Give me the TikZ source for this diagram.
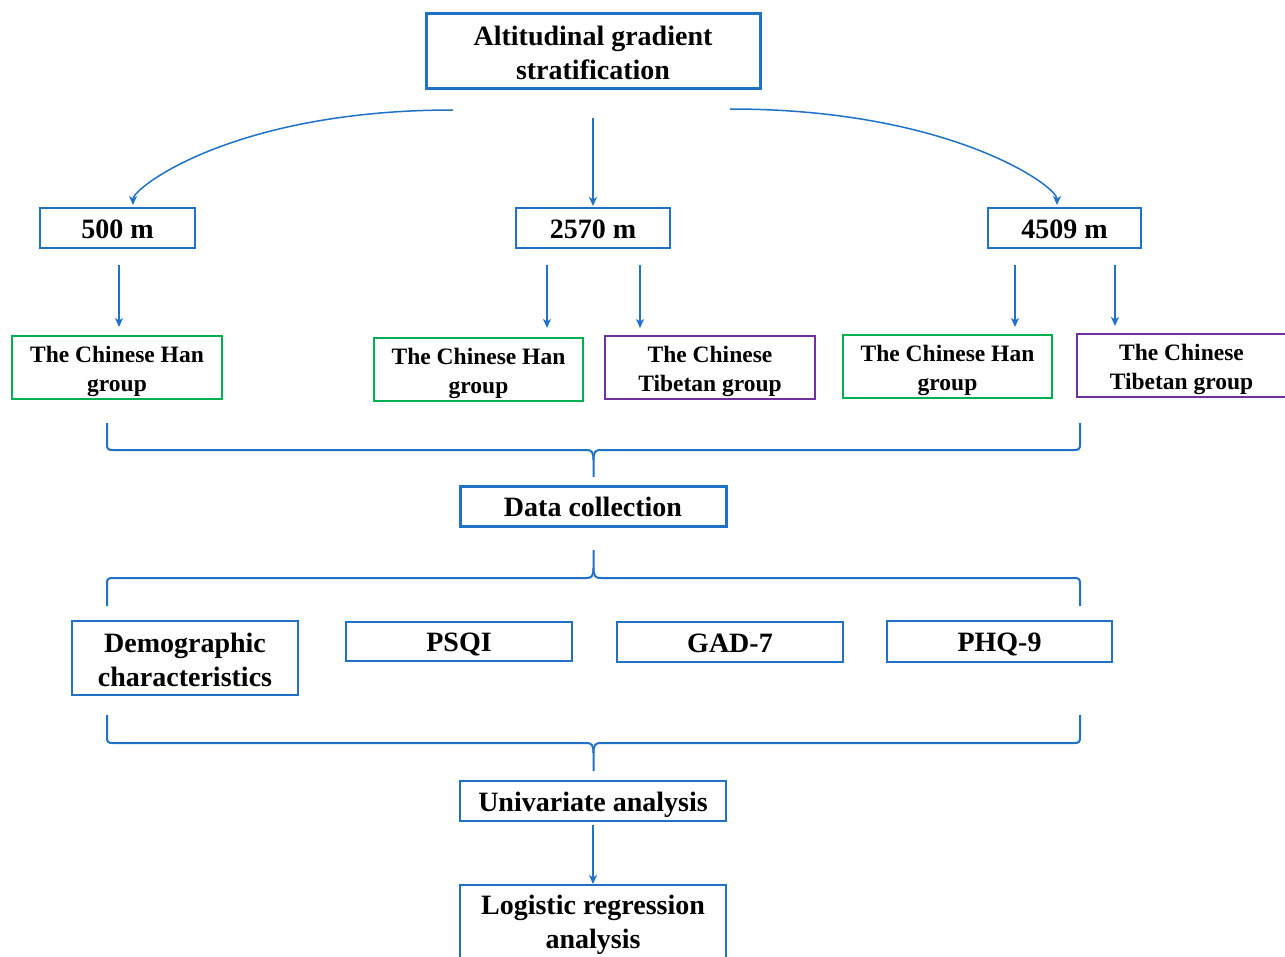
\documentclass[tikz,border=0pt]{standalone}
\usepackage{fontspec}
\setmainfont{Liberation Serif}
\usetikzlibrary{arrows.meta}
\definecolor{cblue}{HTML}{1F72C6}
\definecolor{cgreen}{HTML}{00B050}
\definecolor{cpurple}{HTML}{7030A0}
\newcommand\fbig{\fontsize{28}{34}\selectfont\bfseries}
\newcommand\fsmall{\fontsize{23.5}{28.5}\selectfont\bfseries}
\newcommand\lift[1]{\rule{0pt}{#1}}
\begin{document}
\begin{tikzpicture}[x=1pt,y=-1pt,
  box/.style={draw=cblue, line width=2pt, rectangle, inner sep=0pt, align=center, font=\fbig},
  oneline/.style={text height=20pt, text depth=0pt},
  thickbox/.style={box, line width=3pt},
  hanbox/.style={box, draw=cgreen, font=\fsmall},
  tibbox/.style={box, draw=cpurple, font=\fsmall},
  arr/.style={draw=cblue, line width=1.5pt, -{Stealth[length=9pt,width=8pt,inset=2.5pt]}},
  brace/.style={draw=cblue, line width=2pt}]
\useasboundingbox (0,0) rectangle (1285,956);
\fill[white] (0,0) rectangle (1285,956);

% boxes
\node[thickbox, minimum width=334pt, minimum height=75pt] (top) at (593,50.5) {\lift{24pt}Altitudinal gradient\\stratification};
\node[box, oneline, minimum width=155pt, minimum height=40pt] (b500) at (117.5,228) {500 m};
\node[box, oneline, minimum width=154pt, minimum height=40pt] (b2570) at (593,228) {2570 m};
\node[box, oneline, minimum width=153pt, minimum height=40pt] (b4509) at (1064.5,228) {4509 m};
\node[hanbox, minimum width=210pt, minimum height=63pt] (han1) at (117,367.5) {\lift{24pt}The Chinese Han\\group};
\node[hanbox, minimum width=209pt, minimum height=63pt] (han2) at (478.5,369.5) {\lift{24pt}The Chinese Han\\group};
\node[tibbox, minimum width=210pt, minimum height=63pt] (tib2) at (710,367.5) {\lift{24pt}The Chinese\\Tibetan group};
\node[hanbox, minimum width=209pt, minimum height=63pt] (han3) at (947.5,366.5) {\lift{24pt}The Chinese Han\\group};
\node[tibbox, minimum width=210pt, minimum height=63pt] (tib3) at (1181.5,365.5) {\lift{24pt}The Chinese\\Tibetan group};
\node[thickbox, oneline, minimum width=266pt, minimum height=40pt] (data) at (593,506) {Data collection};
\node[box, minimum width=226pt, minimum height=74pt] (demo) at (185,658) {\lift{23pt}Demographic\\characteristics};
\node[box, oneline, minimum width=226pt, minimum height=39pt] (psqi) at (459,641.5) {PSQI};
\node[box, oneline, minimum width=226pt, minimum height=40pt] (gad) at (730,642) {GAD-7};
\node[box, oneline, minimum width=225pt, minimum height=41pt] (phq) at (999.5,641.5) {PHQ-9};
\node[box, oneline, minimum width=266pt, minimum height=40pt] (uni) at (593,801) {Univariate analysis};
\node[box, minimum width=266pt, minimum height=75pt] (logi) at (593,922) {\lift{26pt}Logistic regression\\analysis};

% connector end points
\coordinate (tL) at (453,110);
\coordinate (tM) at (593,118);
\coordinate (tR) at (730,109);
\coordinate (e500) at (133,205);
\coordinate (e2570) at (593,206);
\coordinate (e4509) at (1057,205);
\coordinate (s1) at (119,265);  \coordinate (d1) at (119,327);
\coordinate (s2) at (547,265);  \coordinate (d2) at (547,328);
\coordinate (s3) at (640,265);  \coordinate (d3) at (640,328);
\coordinate (s4) at (1015,265); \coordinate (d4) at (1015,327);
\coordinate (s5) at (1115,265); \coordinate (d5) at (1115,326);
\coordinate (sU) at (593,825);  \coordinate (dU) at (593,884);

% arrows
\draw[arr] (tL) .. controls (233,110) and (133,188) .. (e500);
\draw[arr] (tM) -- (e2570);
\draw[arr] (tR) .. controls (950,109) and (1057,186) .. (e4509);
\draw[arr] (s1) -- (d1);
\draw[arr] (s2) -- (d2);
\draw[arr] (s3) -- (d3);
\draw[arr] (s4) -- (d4);
\draw[arr] (s5) -- (d5);
\draw[arr] (sU) -- (dU);

% brace 1 (groups -> data collection)
\draw[brace] (107,423) -- (107,444) .. controls (107,449) and (108,450) .. (113,450) -- (586,450)
  .. controls (591,450) and (593.5,451) .. (593.5,460) -- (593.5,477);
\draw[brace] (593.5,460) .. controls (593.5,451) and (596,450) .. (601,450) -- (1074,450)
  .. controls (1079,450) and (1080,449) .. (1080,444) -- (1080,423);

% brace 2 (data collection -> measures)
\draw[brace] (107,606) -- (107,584) .. controls (107,579) and (108,578) .. (113,578) -- (586,578)
  .. controls (591,578) and (593.5,577) .. (593.5,568) -- (593.5,550);
\draw[brace] (593.5,568) .. controls (593.5,577) and (596,578) .. (601,578) -- (1074,578)
  .. controls (1079,578) and (1080,579) .. (1080,584) -- (1080,606);

% brace 3 (measures -> univariate)
\draw[brace] (107,715) -- (107,737) .. controls (107,742) and (108,743) .. (113,743) -- (586,743)
  .. controls (591,743) and (593.5,744) .. (593.5,753) -- (593.5,771);
\draw[brace] (593.5,753) .. controls (593.5,744) and (596,743) .. (601,743) -- (1074,743)
  .. controls (1079,743) and (1080,742) .. (1080,737) -- (1080,715);
\end{tikzpicture}
\end{document}
